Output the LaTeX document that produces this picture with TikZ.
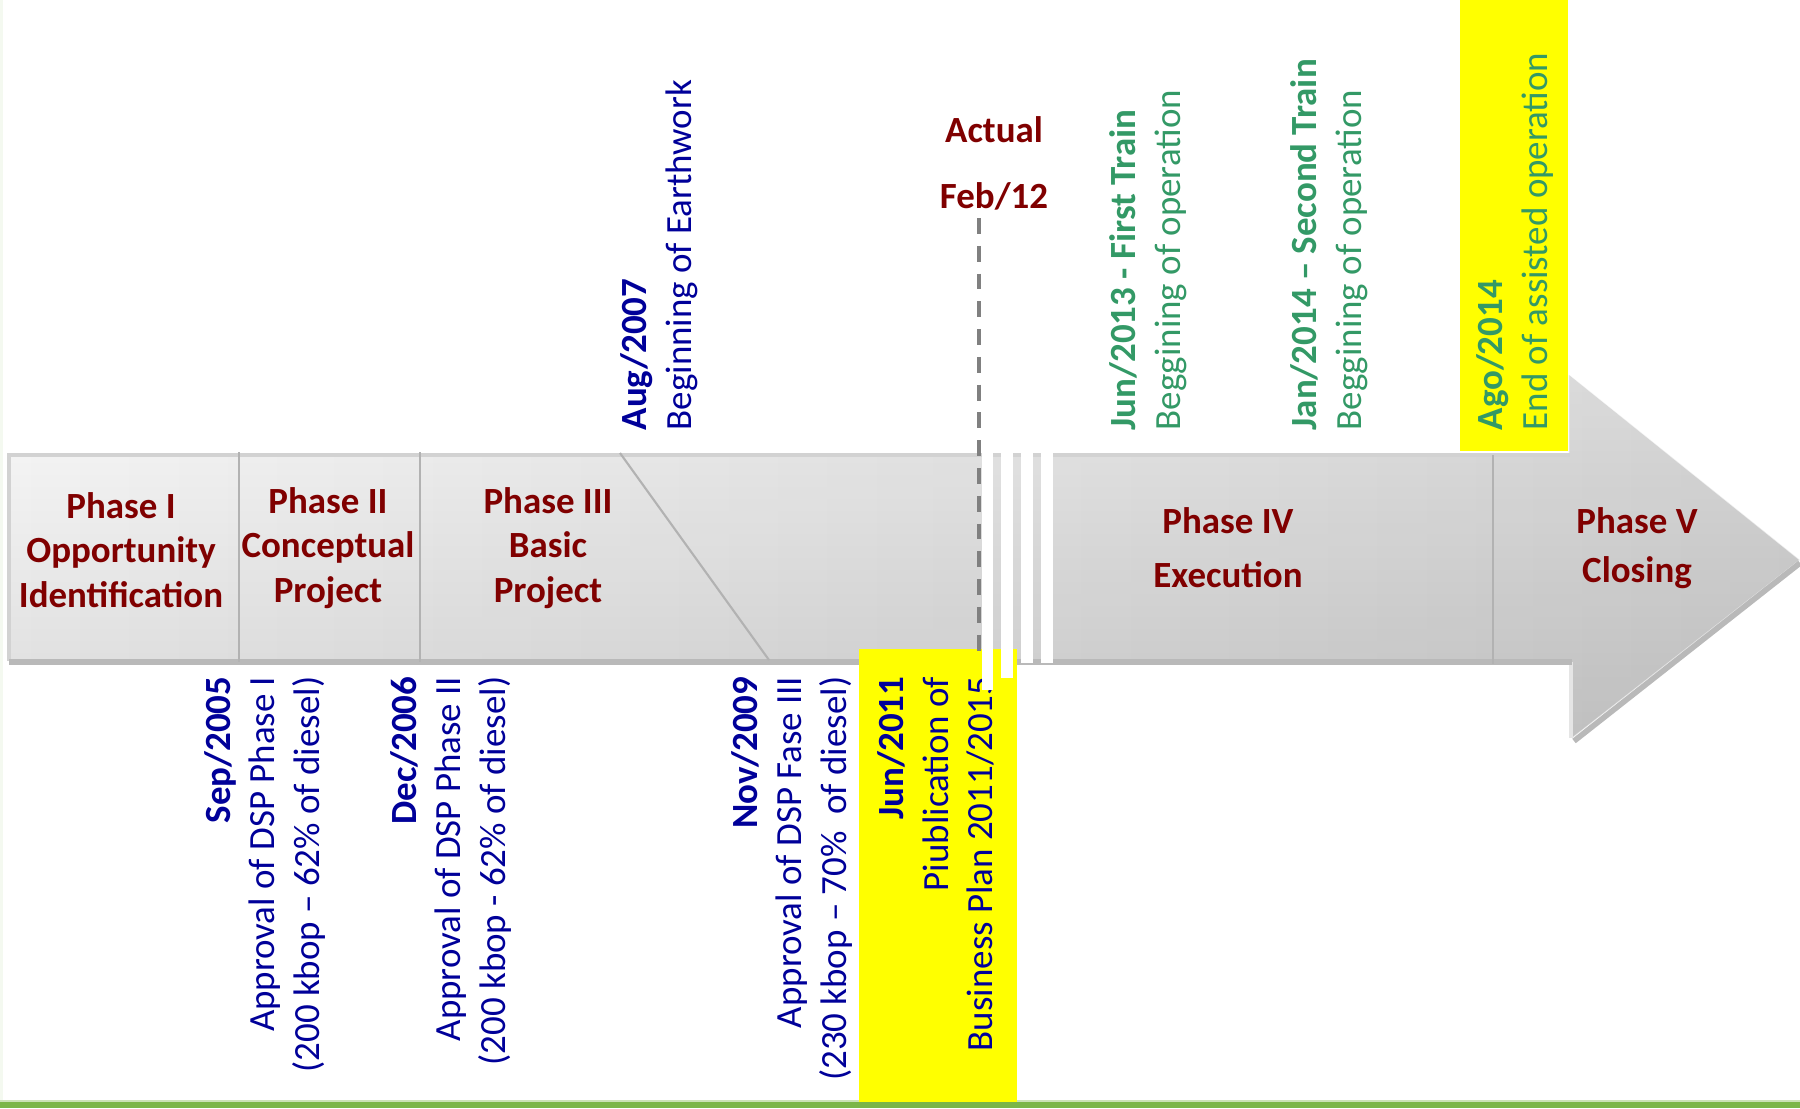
\documentclass[tikz,border=0pt]{standalone}
\usepackage{fontspec}
\setmainfont{Carlito}
\usetikzlibrary{positioning,fadings}
\definecolor{phasered}{HTML}{800000}
\definecolor{datenavy}{HTML}{000099}
\definecolor{traingreen}{HTML}{339966}
\definecolor{markyellow}{HTML}{FFFF00}
\definecolor{footgreen}{HTML}{7AB648}
\begin{document}
\begin{tikzpicture}[x=0.01cm, y=-0.01cm,
    every node/.style={font=\fontsize{10.5}{12.7}\selectfont, inner sep=0pt},
    phase/.style={text=phasered, font=\fontsize{10.5}{12.7}\selectfont\bfseries, align=center},
    upnote/.style={rotate=90, anchor=west, align=left},
    downnote/.style={rotate=90, anchor=east, align=right, text=datenavy},
    divider/.style={gray!60, line width=0.6pt},
    breakgap/.style={fill=white},
    highlight/.style={fill=markyellow}]
    \useasboundingbox (0,0) rectangle (1800,1108);
    \fill[footgreen!8] (0,0) rectangle (3,1108);
    \fill[footgreen!40] (0,1100) rectangle (1800,1102);
    \fill[footgreen] (0,1102) rectangle (1800,1108);
    % the arrow
    \shade[top color=gray!4, bottom color=gray!28] (9,455) -- (1570,455) -- (1570,375) -- (1800,560) -- (1572,738) -- (1572,661) -- (9,661) -- cycle;
    \fill[black, opacity=0.14, path fading=west] (9,455) -- (1570,455) -- (1570,375) -- (1800,560) -- (1572,738) -- (1572,661) -- (9,661) -- cycle;
    \draw[gray!35, line width=1pt] (9,661) -- (9,455) -- (1570,455);
    \draw[gray!20, line width=1pt] (1571,662) -- (1571,738);
    \draw[gray!55, line width=1.6pt] (9,662) -- (1572,662);
    \draw[gray!55, line width=1.6pt] (1574,741) -- (1800,563);
    \draw[divider] (239,452) -- (239,662);
    \draw[divider] (420,452) -- (420,662);
    \draw[divider] (1493,455) -- (1493,664);
    \draw[divider] (620,453) -- (769,660);
    \fill[highlight] (859,649) rectangle (1017,1102);
    \fill[highlight] (1460,0) rectangle (1568,451);
    % phases
    \node[phase] (ph1) at (121,550) {Phase I\\Opportunity\\Identification};
    \node[phase] (ph2) at (328,548) {Phase II\\Conceptual\\Project};
    \node[phase] (ph3) at (548,548) {Phase III\\Basic\\Project};
    \node[phase] (ph4) at (1228,548) {Phase IV\\[2.7pt]Execution};
    \node[phase] (ph5) at (1637,548) {Phase V\\[1.4pt]Closing};
    % milestones above
    \node[upnote, text=datenavy] (aug07) at (659,431) {\textbf{Aug/2007}\\Beginning of Earthwork};
    \node[upnote, text=traingreen] (jun13) at (1148,431) {\textbf{Jun/2013 - First Train}\\Beggining of operation};
    \node[upnote, text=traingreen] (jan14) at (1329,431) {\textbf{Jan/2014 – Second Train}\\Beggining of operation};
    \node[upnote, text=traingreen] (ago14) at (1515,431) {\textbf{Ago/2014}\\End of assisted operation};
    % milestones below
    \node[downnote] (sep05) at (265,676) {\textbf{Sep/2005}\\Approval of DSP Phase I\\(200 kbop – 62\% of diesel)};
    \node[downnote] (dec06) at (451,676) {\textbf{Dec/2006}\\Approval of DSP Phase II\\(200 kbop - 62\% of diesel)};
    \node[downnote] (nov09) at (792,676) {\textbf{Nov/2009}\\Approval of DSP Fase III\\(230 kbop – 70\%\ \ of diesel)};
    \node[downnote] (jun11) at (936,676) {\textbf{Jun/2011}\\Piublication of\\Business Plan 2011/2015};
    % today
    \node[phase] (actual) at (994,130) {Actual};
    \node[phase, below of=actual, node distance=0.66cm] (feb) {Feb/12};
    \coordinate (nowtop) at (979,218);
    \coordinate (nowbot) at (979,655);
    \draw[gray, line width=1.1pt, dash pattern=on 4.5pt off 3.4pt] (nowtop) -- (nowbot);
    \fill[breakgap] (982,450) rectangle (993,690);
    \fill[breakgap] (1001,450) rectangle (1013,678);
    \fill[breakgap] (1021,450) rectangle (1033,663);
    \fill[breakgap] (1041,450) rectangle (1053,663);
\end{tikzpicture}
\end{document}
